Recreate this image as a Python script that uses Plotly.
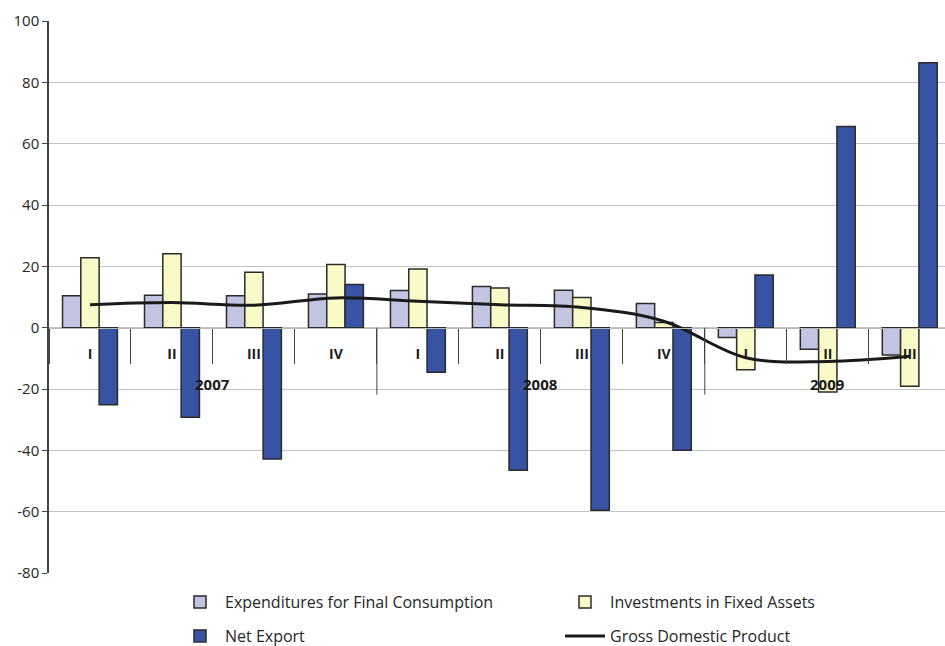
import plotly.graph_objects as go

# Quarterly contributions, by component
years = ["2007"] * 4 + ["2008"] * 4 + ["2009"] * 3
quarters = ["I", "II", "III", "IV", "I", "II", "III", "IV", "I", "II", "III"]

consumption = [10.4, 10.6, 10.4, 11.0, 12.1, 13.4, 12.2, 7.9, -3.2, -7.0, -8.9]
investments = [22.8, 24.1, 18.1, 20.6, 19.1, 12.9, 9.8, 1.7, -13.7, -21.0, -19.1]
net_export = [-25.1, -29.2, -42.8, 14.1, -14.5, -46.5, -59.5, -40.0, 17.2, 65.6, 86.4]
gdp = [7.5, 8.2, 7.3, 9.7, 8.6, 7.5, 6.6, 2.1, -9.8, -11.0, -9.3]

y_ticks = [-80, -60, -40, -20, 0, 20, 40, 60, 80, 100]
y_ticktext = [str(v) for v in y_ticks]

FONT = "Open Sans"
TEXT = "#262626"
EDGE = dict(color="#2b2b2b", width=1.5)
pos = list(range(len(quarters)))

fig = go.Figure()
fig.add_trace(go.Bar(x=pos, y=consumption, name="Expenditures for Final Consumption",
                     marker=dict(color="#C3C3E2", line=EDGE), legend="legend"))
fig.add_trace(go.Bar(x=pos, y=investments, name="Investments in Fixed Assets",
                     marker=dict(color="#FAFAC8", line=EDGE), legend="legend"))
fig.add_trace(go.Bar(x=pos, y=net_export, name="Net Export",
                     marker=dict(color="#3853A4", line=EDGE), legend="legend2"))
fig.add_trace(go.Scatter(x=pos, y=gdp, name="Gross Domestic Product", mode="lines",
                         line=dict(color="#1a1a1a", width=3, shape="spline", smoothing=1.0),
                         legend="legend2"))

# Year groups: label in the middle, long divider between groups
groups = []
for i, yr in enumerate(years):
    if not groups or groups[-1][0] != yr:
        groups.append([yr, i, i])
    else:
        groups[-1][2] = i

for yr, first, last in groups:
    fig.add_annotation(x=(first + last) / 2, y=0, xref="x", yref="y", text=yr,
                       showarrow=False, yshift=-56, yanchor="middle",
                       font=dict(family=FONT, size=15, color="#1a1a1a", weight="bold"))
for yr, first, last in groups[1:]:
    fig.add_shape(type="line", xref="x", yref="y", x0=first - 0.5, x1=first - 0.5,
                  ysizemode="pixel", yanchor=0, y0=0, y1=-67,
                  line=dict(color="#444", width=1))

zero_frac = (0 - y_ticks[0]) / (y_ticks[-1] - y_ticks[0])

legend_common = dict(orientation="h", xref="container", yref="container",
                     x=175 / 945, xanchor="left", yanchor="middle",
                     entrywidth=330, entrywidthmode="pixels", itemwidth=40,
                     font=dict(family=FONT, size=16, color=TEXT),
                     bgcolor="rgba(0,0,0,0)", traceorder="normal")

fig.update_layout(
    width=945, height=646,
    margin=dict(l=49, r=0, t=21, b=73, autoexpand=False),
    paper_bgcolor="white", plot_bgcolor="white",
    font=dict(family=FONT, size=15, color=TEXT),
    barmode="group", bargap=0.33, bargroupgap=0,
    showlegend=True,
    legend=dict(legend_common, y=1 - 602 / 646),
    legend2=dict(legend_common, y=1 - 636 / 646),
    xaxis=dict(anchor="free", position=zero_frac, automargin=False,
               range=[-0.5, len(quarters) - 0.57], showgrid=False,
               tickvals=pos, ticktext=quarters, ticks="", ticklabelstandoff=14,
               showline=True, linecolor="#b8b8b8", linewidth=1, zeroline=False,
               minor=dict(tick0=0.5, dtick=1, ticks="outside", ticklen=35,
                          tickcolor="#444", tickwidth=1, showgrid=False),
               tickfont=dict(family=FONT, size=14, color="#1a1a1a", weight="bold")),
    yaxis=dict(range=[y_ticks[0], y_ticks[-1]], tickvals=y_ticks, ticktext=y_ticktext,
               automargin=False,
               showgrid=True, gridcolor="#c4c4c4", gridwidth=1,
               zeroline=False, showline=True, linecolor="#444", linewidth=1.5,
               ticks="outside", ticklen=5, tickcolor="#444",
               tickfont=dict(family=FONT, size=15, color=TEXT)),
)

fig.write_html("out.html")
